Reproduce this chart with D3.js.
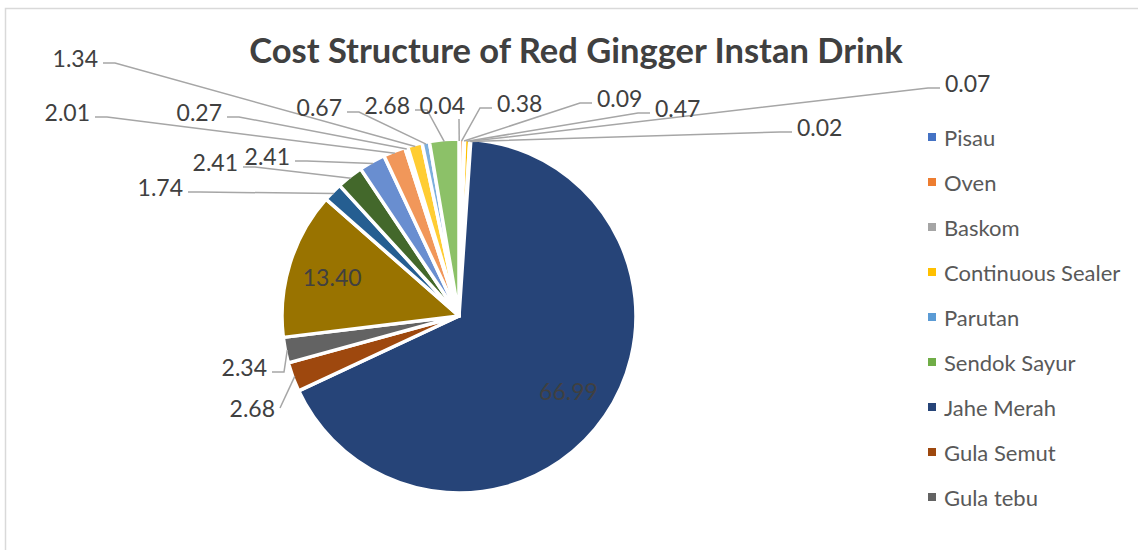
<!DOCTYPE html>
<html>
<head>
<meta charset="utf-8">
<script src="https://cdn.jsdelivr.net/npm/d3@7"></script>
<style>
  body { margin: 0; background: #fff; }
  text { font-family: Lato, "Noto Sans", sans-serif; }
</style>
</head>
<body>
<div id="chart"></div>
<script>
// Chart size
const width = 1138;
const height = 550;

// Slice names (only the first nine show in the legend, as in the original)
const categories = [
  "Pisau", "Oven", "Baskom", "Continuous Sealer", "Parutan", "Sendok Sayur",
  "Jahe Merah", "Gula Semut", "Gula tebu",
  "Bahan 10", "Bahan 11", "Bahan 12", "Bahan 13", "Bahan 14",
  "Bahan 15", "Bahan 16", "Bahan 17", "Bahan 18"
];

// Cost share of each item (%)
const values = [
  0.04, 0.38, 0.09, 0.47, 0.07, 0.02,
  66.99, 2.68, 2.34,
  13.40, 1.74, 2.41, 2.41, 2.01,
  0.27, 1.34, 0.67, 2.68
];

const legendCount = 9;

// Office palette
const colors = [
  "#4472C4", "#ED7D31", "#A5A5A5", "#FFC000", "#5B9BD5", "#70AD47",
  "#264478", "#9E480E", "#636363", "#997300", "#255E91", "#43682B",
  "#698ED0", "#F1975A", "#B7B7B7", "#FFCD33", "#7CAFDD", "#8CC168"
];

// Where each data label sits (x = edge nearest the pie, y = middle of text)
// side: "in" inside slice, "L" label left of slice, "R" label right,
// "T" label above, "D" straight line from the label's right edge
const labelLayout = [
  {side: "T", x: 465, y: 105},
  {side: "R", x: 497, y: 103},
  {side: "R", x: 597, y: 98},
  {side: "R", x: 655, y: 108},
  {side: "R", x: 945, y: 83},
  {side: "R", x: 797, y: 127},
  {side: "in"},
  {side: "D", x: 275, y: 408},
  {side: "L", x: 267, y: 367},
  {side: "in"},
  {side: "L", x: 183, y: 187},
  {side: "L", x: 238, y: 162},
  {side: "L", x: 290, y: 156},
  {side: "L", x: 90, y: 112},
  {side: "L", x: 222, y: 112},
  {side: "L", x: 98, y: 58},
  {side: "L", x: 342, y: 107},
  {side: "L", x: 410, y: 105}
];

const cx = 459, cy = 316, radius = 177;

const svg = d3.select("#chart")
  .append("svg")
  .attr("width", width)
  .attr("height", height);

// Chart area border
svg.append("rect")
  .attr("x", 5.5).attr("y", 8.5)
  .attr("width", width + 20).attr("height", height + 20)
  .attr("fill", "none")
  .attr("stroke", "#d9d9d9")
  .attr("stroke-width", 1.5);

// Title
svg.append("text")
  .attr("x", 576)
  .attr("y", 63)
  .attr("text-anchor", "middle")
  .attr("font-size", "34.5px")
  .attr("font-weight", "bold")
  .attr("fill", "#404040")
  .text("Cost Structure of Red Gingger Instan Drink");

const data = categories.map((c, i) => ({name: c, value: values[i], idx: i}));

const pie = d3.pie()
  .sort(null)
  .value(d => d.value);

const arcs = pie(data);

const arc = d3.arc().innerRadius(0).outerRadius(radius);
const edgeArc = d3.arc().innerRadius(radius - 2).outerRadius(radius - 2);
const labelArc = d3.arc().innerRadius(radius * 0.75).outerRadius(radius * 0.75);

const g = svg.append("g").attr("transform", `translate(${cx},${cy})`);

// Leader lines (drawn under the slices)
const leaders = svg.append("g");
arcs.forEach((a, i) => {
  const lay = labelLayout[i];
  if (lay.side === "in") return;
  const p = edgeArc.centroid(a);
  const px = cx + p[0], py = cy + p[1];
  let pts;
  if (lay.side === "T") {
    pts = [[lay.x - 6, lay.y + 14], [px, py]];
  } else if (lay.side === "D") {
    pts = [[lay.x + 5, lay.y], [px, py]];
  } else if (lay.side === "L") {
    const ly = lay.y + 5;
    pts = [[lay.x + 5, ly], [lay.x + 17, ly], [px, py]];
  } else {
    const ly = lay.y + 5;
    pts = [[lay.x - 5, ly], [lay.x - 17, ly], [px, py]];
  }
  leaders.append("path")
    .attr("d", d3.line()(pts))
    .attr("fill", "none")
    .attr("stroke", "#a6a6a6")
    .attr("stroke-width", 1.5);
});

// Slices
g.selectAll("path.slice")
  .data(arcs)
  .enter()
  .append("path")
    .attr("class", "slice")
    .attr("d", arc)
    .attr("fill", d => colors[d.index])
    .attr("stroke", "#fff")
    .attr("stroke-width", 3.5)
    .attr("stroke-linejoin", "round");

// Data labels
arcs.forEach((a, i) => {
  const lay = labelLayout[i];
  const txt = d3.format(".2f")(a.data.value);
  if (lay.side === "in") {
    const c = labelArc.centroid(a);
    g.append("text")
      .attr("x", c[0]).attr("y", c[1])
      .attr("text-anchor", "middle")
      .attr("dominant-baseline", "central")
      .attr("font-size", "23px")
      .attr("fill", "#404040")
      .text(txt);
    return;
  }
  svg.append("text")
    .attr("x", lay.x)
    .attr("y", lay.y)
    .attr("text-anchor", lay.side === "R" ? "start" : "end")
    .attr("dominant-baseline", "central")
    .attr("font-size", "23px")
    .attr("fill", "#404040")
    .text(txt);
});

// Legend
const legend = svg.append("g")
  .selectAll("g")
  .data(data.slice(0, legendCount))
  .enter()
  .append("g")
  .attr("transform", (d, i) => `translate(928, ${137 + i * 45})`);

legend.append("rect")
  .attr("x", 0).attr("y", -4)
  .attr("width", 8).attr("height", 8)
  .attr("fill", d => colors[d.idx]);

legend.append("text")
  .attr("x", 16)
  .attr("y", 0)
  .attr("dominant-baseline", "central")
  .attr("font-size", "22px")
  .attr("fill", "#595959")
  .text(d => d.name);
</script>
</body>
</html>
